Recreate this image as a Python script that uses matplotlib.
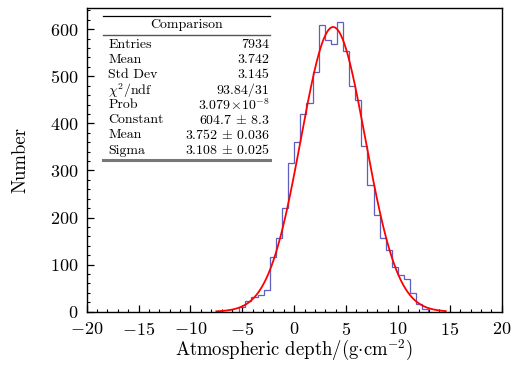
import numpy as np
import matplotlib
matplotlib.use("Agg")
import matplotlib.pyplot as plt
from matplotlib.ticker import MultipleLocator

plt.rcParams["font.family"] = "serif"
plt.rcParams["font.serif"] = ["cmr10", "DejaVu Serif"]
plt.rcParams["mathtext.fontset"] = "cm"
plt.rcParams["axes.formatter.use_mathtext"] = True
plt.rcParams["axes.unicode_minus"] = True

# histogram: 68 bins over [-20, 20], first filled bin index 25
nbins = 68
xrange_ = (-20, 20)
first_bin = 25
counts = [10, 22, 32, 35, 46, 117, 157, 220, 315, 360, 420, 443, 509, 608,
          577, 569, 615, 553, 480, 450, 351, 269, 205, 157, 131, 96, 79, 70,
          39, 16, 5]

# gaussian fit result
g_const = 604.7
g_mean = 3.752
g_sigma = 3.108
fit_lo, fit_hi = -7.5, 14.6

stat_names = ["Entries", "Mean", "Std Dev", r"$\chi^2$/ndf", "Prob",
              "Constant", "Mean", "Sigma"]
stat_vals = ["7934", "3.742", "3.145", "93.84/31", r"$3.079\!\times\!10^{-8}$",
             r"$604.7\,\pm\,8.3$", r"$3.752\,\pm\,0.036$", r"$3.108\,\pm\,0.025$"]

edges_all = np.linspace(xrange_[0], xrange_[1], nbins + 1)
edges = edges_all[first_bin:first_bin + len(counts) + 1]

fig = plt.figure(figsize=(5.13, 3.65), dpi=100)
ax = fig.add_axes([0.169, 0.146, 0.809, 0.832])

ax.stairs(counts, edges, baseline=0, color="#4d4dbb", lw=0.9, alpha=0.9, zorder=2)
xf = np.linspace(fit_lo, fit_hi, 400)
yf = g_const * np.exp(-0.5 * ((xf - g_mean) / g_sigma) ** 2)
ax.plot(xf, yf, color="red", lw=1.3, zorder=3)

ax.set_xlim(-20, 20)
ax.set_ylim(0, 645)
ax.xaxis.set_major_locator(MultipleLocator(5))
ax.xaxis.set_minor_locator(MultipleLocator(1))
ax.yaxis.set_major_locator(MultipleLocator(100))
ax.yaxis.set_minor_locator(MultipleLocator(20))
ax.tick_params(which="both", direction="in", top=False, right=False, labelsize=13)
ax.tick_params(axis="x", pad=6.5)
ax.tick_params(axis="y", pad=6)
ax.tick_params(which="major", length=5, width=0.9)
ax.tick_params(which="minor", length=2.5, width=0.8)
for s in ax.spines.values():
    s.set_linewidth(1.0)
    s.set_zorder(5)

ax.set_xlabel(r"Atmospheric depth/(g$\cdot$cm$^{-2}$)", fontsize=13.5, labelpad=0)
ax.set_ylabel("Number", fontsize=13.5, labelpad=15)

# stats box
bx0, bx1 = 0.039, 0.442
tr = ax.transAxes
ax.plot([bx0, bx1], [0.974, 0.974], transform=tr, color="black", lw=0.9, clip_on=False)
ax.plot([bx0, bx1], [0.911, 0.911], transform=tr, color="#555555", lw=1.0, clip_on=False)
ax.plot([bx0, bx1], [0.499, 0.499], transform=tr, color="#777777", lw=2.2, clip_on=False)
ax.text((bx0 + bx1) / 2, 0.943, "Comparison", transform=tr, ha="center", va="center", fontsize=10)
ys = np.linspace(0.878, 0.531, len(stat_names))
for nm, v, yy in zip(stat_names, stat_vals, ys):
    ax.text(0.052, yy, nm, transform=tr, ha="left", va="center", fontsize=10)
    ax.text(0.44, yy, v, transform=tr, ha="right", va="center", fontsize=10)

fig.savefig("out.png", dpi=100)
